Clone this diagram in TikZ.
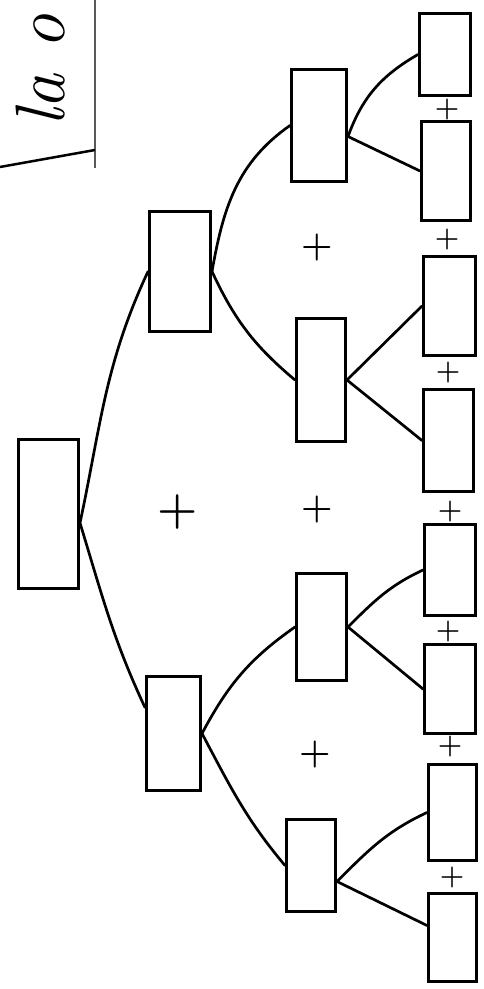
\documentclass[tikz,border=0pt]{standalone}
\usepackage{fontspec}
\begin{document}
\begin{tikzpicture}[x=1pt, y=1pt,
        box/.style 2 args={draw, line width=3pt, inner sep=0pt,
            minimum width=#1pt, minimum height=#2pt},
        link/.style={line width=2.7pt, line cap=round},
        plus/.style={inner sep=0pt, font=\fontsize{#1}{#1}\selectfont\bfseries}]

                \useasboundingbox (0,0) rectangle (484,989);
                \clip (0,0) rectangle (484,989);

                %----- CORNER OF THE TITLE BOX -----
                \draw[line width=2pt, gray!70!black] (95,989) -- (95,821);
                \draw[line width=2.5pt] (0,822) -- (95,839);
                \node[rotate=90, anchor=base west, inner sep=0pt,
                      font=\fontsize{70}{70}\selectfont\itshape] (title) at (64,862) {la o};

                %----- ROOT -----
                \node[box={60}{149}] (root) at (48.5,475) {};

                %----- SECOND LEVEL -----
                \node[box={61}{120}] (c1) at (180,717.5) {};
                \node[box={54}{114}] (c2) at (173.5,255.5) {};

                %----- THIRD LEVEL -----
                \node[box={55}{112}] (g1) at (319,863.5) {};
                \node[box={49}{123}] (g2) at (321,609) {};
                \node[box={50}{107}] (g3) at (321.5,362) {};
                \node[box={49}{92}]  (g4) at (311,123.5) {};

                %----- LEAVES -----
                \node[box={51}{82}]  (l1) at (445,934.5) {};
                \node[box={49}{99}]  (l2) at (446,818) {};
                \node[box={52}{99}]  (l3) at (449.5,683) {};
                \node[box={50}{102}] (l4) at (448.5,548.5) {};
                \node[box={51}{91}]  (l5) at (450,419) {};
                \node[box={51}{89}]  (l6) at (450,300) {};
                \node[box={48}{96}]  (l7) at (452.5,176.5) {};
                \node[box={48}{88}]  (l8) at (452.5,51.5) {};

                %----- PLUS SIGNS -----
                \node[plus=46] (p0) at (178,477) {+};
                \node[plus=36] (m1) at (317,741) {+};
                \node[plus=36] (m2) at (317,479) {+};
                \node[plus=36] (m3) at (315,234) {+};
                \node[plus=28] (q1) at (447,879) {+};
                \node[plus=28] (q2) at (447,749) {+};
                \node[plus=28] (q3) at (448,616) {+};
                \node[plus=28] (q4) at (450,477) {+};
                \node[plus=28] (q5) at (448,357) {+};
                \node[plus=28] (q6) at (450,242) {+};
                \node[plus=28] (q7) at (452,111) {+};

                %----- BRANCHES -----
                \draw[link] ([yshift=-9pt]root.east) to[out=78,in=245] (c1.west);
                \draw[link] ([yshift=-9pt]root.east) to[out=-73,in=115] ([yshift=26pt]c2.west);

                \draw[link] (c1.east) to[out=80,in=215] (g1.west);
                \draw[link] (c1.east) to[out=-65,in=140] (g2.west);
                \draw[link] (c2.east) to[out=62,in=215] (g3.west);
                \draw[link] (c2.east) to[out=-62,in=130] (g4.west);

                \draw[link] ([yshift=-11pt]g1.east) to[out=70,in=210] (l1.west);
                \draw[link] ([yshift=-11pt]g1.east) -- (l2.west);
                \draw[link] (g2.east) -- (l3.west);
                \draw[link] (g2.east) -- (l4.west);
                \draw[link] (g3.east) to[out=45,in=205] (l5.west);
                \draw[link] (g3.east) -- (l6.west);
                \draw[link] ([yshift=-16pt]g4.east) to[out=45,in=205] (l7.west);
                \draw[link] ([yshift=-16pt]g4.east) -- ([yshift=12pt]l8.west);

\end{tikzpicture}
\end{document}
